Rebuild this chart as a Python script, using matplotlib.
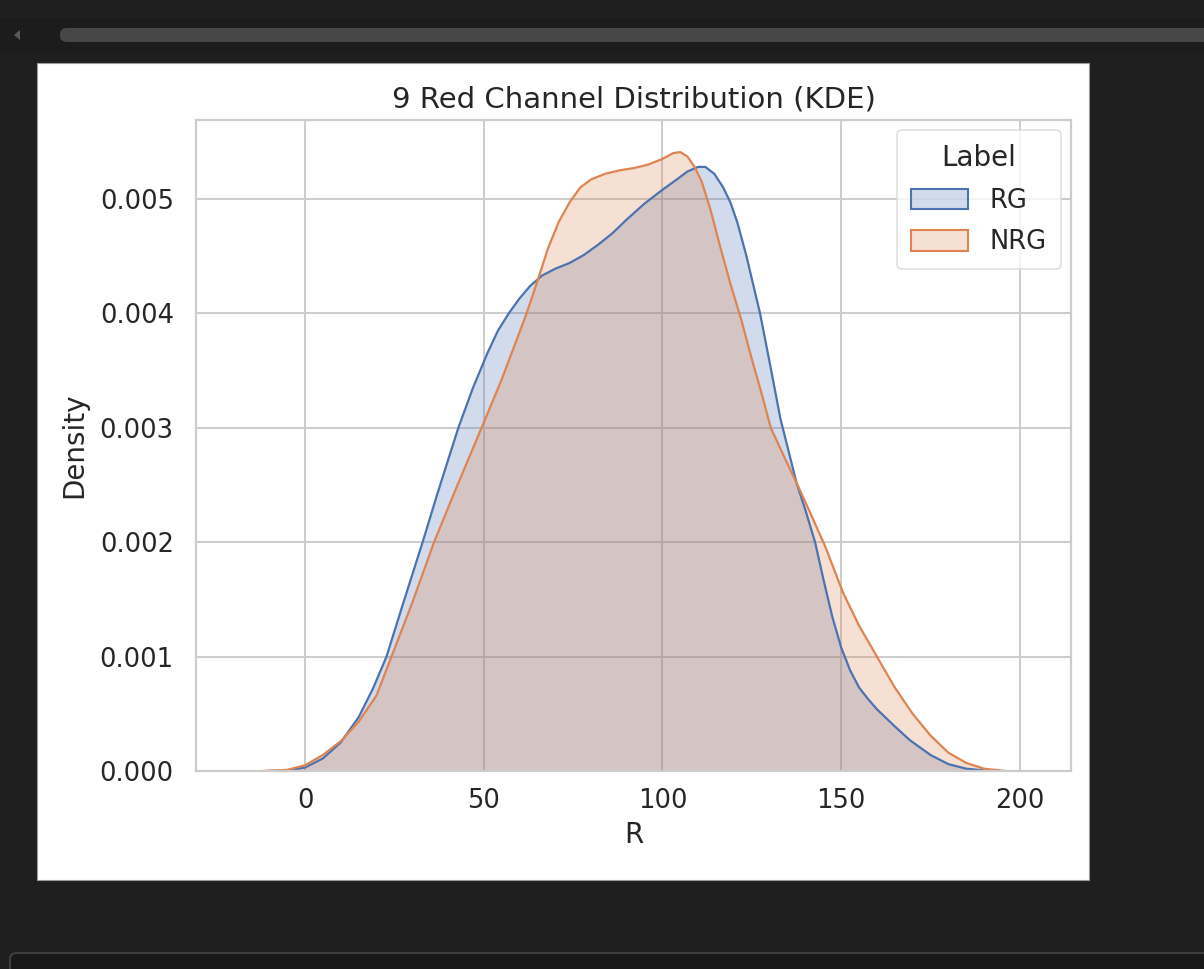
import matplotlib
matplotlib.use("Agg")
import matplotlib.pyplot as plt
from matplotlib.colors import to_rgba
from matplotlib.patches import Patch, FancyBboxPatch, Rectangle, Polygon

# KDE curves of the red channel, sampled by hand (R value, density x 1e-3)
rg_x = [-10, -5, 0, 5, 10, 15, 19, 22.8, 27, 32.9, 37, 42.9, 47, 51, 54, 57,
        60, 63, 66.3, 70, 74, 78, 82, 86, 90, 95, 100, 104, 107, 110, 112,
        114.5, 117, 119, 121, 123.5, 127.3, 130, 133, 137.5, 140, 142.7, 145,
        147.5, 150, 152.5, 155, 157.5, 160, 165, 169.2, 175, 180, 185, 190, 194]
rg_y = [0, 0.005, 0.03, 0.11, 0.25, 0.47, 0.72, 1.0, 1.42, 2.0, 2.42, 3.0,
        3.35, 3.65, 3.85, 4.0, 4.13, 4.24, 4.33, 4.39, 4.44, 4.51, 4.60, 4.70,
        4.82, 4.96, 5.08, 5.17, 5.24, 5.28, 5.28, 5.22, 5.10, 4.97, 4.79,
        4.50, 4.00, 3.57, 3.08, 2.52, 2.28, 2.0, 1.68, 1.35, 1.08, 0.88, 0.73,
        0.63, 0.54, 0.39, 0.27, 0.14, 0.06, 0.02, 0.005, 0]

nrg_x = [-12, -5, 0, 5, 10, 15, 20, 24.2, 30, 36.1, 42, 49.4, 55, 62, 65, 68,
         71, 74, 77, 80, 84, 88, 92, 96, 100, 103, 105, 107, 109, 111, 113.5,
         116, 119, 122, 125, 128, 130.3, 134, 137.5, 141, 145.7, 150.5, 155,
         160, 165, 170, 175, 180, 185, 190, 196]
nrg_y = [0, 0.01, 0.05, 0.14, 0.26, 0.43, 0.66, 1.0, 1.47, 2.0, 2.45, 3.0,
         3.42, 4.0, 4.28, 4.57, 4.80, 4.97, 5.10, 5.17, 5.22, 5.25, 5.27,
         5.30, 5.35, 5.40, 5.41, 5.37, 5.28, 5.15, 4.90, 4.60, 4.26, 3.95,
         3.6, 3.27, 3.0, 2.75, 2.52, 2.28, 1.95, 1.56, 1.27, 1.0, 0.73, 0.5,
         0.31, 0.16, 0.07, 0.02, 0]

labels = ["RG", "NRG"]
colors = ["#4c72b0", "#dd8452"]
x_ticks = [0, 50, 100, 150, 200]
y_ticks = [0.000, 0.001, 0.002, 0.003, 0.004, 0.005]

text_c = "#262626"
grid_c = "#cccccc"

W, H = 1204, 969
fig = plt.figure(figsize=(W / 100, H / 100), dpi=100, facecolor="#1f1f1f")


def chrome(p):
    # background shapes go under the axes
    p.set_zorder(-10)
    fig.patches.append(p)


# notebook chrome: scroll bar on top, input box at the bottom
chrome(Rectangle((0, 1 - 52 / H), 1, 34 / H, transform=fig.transFigure,
                 facecolor="#1c1c1c", edgecolor="none"))
chrome(FancyBboxPatch((60 / W, 1 - 42 / H), 1.0, 14 / H,
                      boxstyle="round,pad=0,rounding_size=0.006",
                      transform=fig.transFigure, facecolor="#474747", edgecolor="none"))
chrome(Polygon([(14 / W, 1 - 35 / H), (20 / W, 1 - 30 / H), (20 / W, 1 - 40 / H)],
               closed=True, transform=fig.transFigure, facecolor="#5a5a5a", edgecolor="none"))
chrome(FancyBboxPatch((10 / W, -0.02), 1.0, (969 - 953) / H + 0.02,
                      boxstyle="round,pad=0,rounding_size=0.006",
                      transform=fig.transFigure, facecolor="#181818",
                      edgecolor="#3e3e3e", linewidth=1.5))

# white output panel
chrome(Rectangle((37 / W, 1 - 880 / H), 1052 / W, 817 / H,
                 transform=fig.transFigure, facecolor="white",
                 edgecolor="#9a9a9a", linewidth=0.8))

ax = fig.add_axes([196 / W, 1 - 771 / H, 875 / W, 651 / H])
ax.set_facecolor("white")

for xs, ys, c in [(rg_x, rg_y, colors[0]), (nrg_x, nrg_y, colors[1])]:
    dens = [v / 1000 for v in ys]
    ax.fill_between(xs, dens, 0, color=c, alpha=0.25, linewidth=0)
    ax.plot(xs, dens, color=c, linewidth=1.6, solid_joinstyle="round")

ax.set_xlim(-30.5, 214.3)
ax.set_ylim(0, 0.00569)
ax.set_xticks(x_ticks)
ax.set_yticks(y_ticks)
ax.set_yticklabels([f"{v:.3f}" for v in y_ticks])

ax.grid(True, color=grid_c, linewidth=1.4)
ax.set_axisbelow(True)
for s in ax.spines.values():
    s.set_color(grid_c)
    s.set_linewidth(1.6)
ax.tick_params(axis="both", length=0, labelsize=18.5, labelcolor=text_c)
ax.tick_params(axis="y", pad=16)
ax.tick_params(axis="x", pad=12)

ax.set_title("9 Red Channel Distribution (KDE)", fontsize=21, color=text_c, pad=9)
ax.set_xlabel("R", fontsize=20, color=text_c, labelpad=5)
ax.set_ylabel("Density", fontsize=20, color=text_c, labelpad=8)

handles = [Patch(facecolor=to_rgba(c, 0.25), edgecolor=c, linewidth=1.5) for c in colors]
leg = ax.legend(handles, labels, title="Label", loc="upper right", fontsize=18.5,
                title_fontsize=20, frameon=True, borderpad=0.55, labelspacing=0.6,
                handlelength=2.2, handleheight=0.85, handletextpad=0.85,
                borderaxespad=0.4)
leg.get_frame().set_edgecolor("#d9d9d9")
leg.get_frame().set_linewidth(1.2)
for t in leg.get_texts():
    t.set_color(text_c)
leg.get_title().set_color(text_c)

fig.savefig("out.png", dpi=100, facecolor=fig.get_facecolor())
